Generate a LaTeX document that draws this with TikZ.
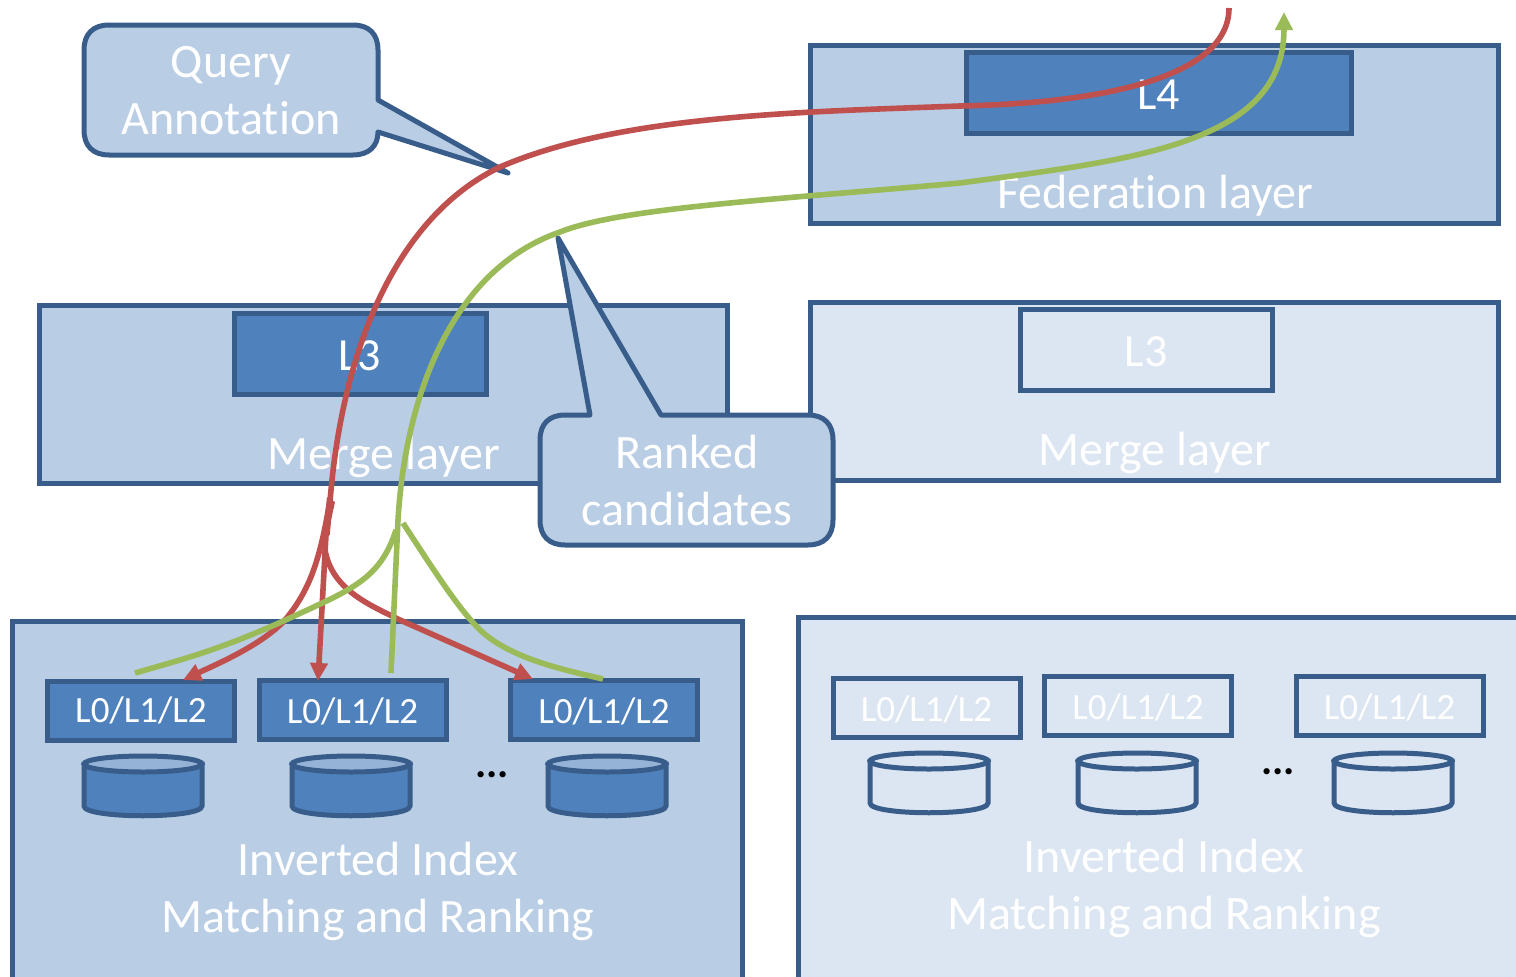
\documentclass[tikz,border=0pt]{standalone}
\usepackage{fontspec}
\setmainfont[Ligatures=NoCommon]{Carlito}
\usetikzlibrary{arrows.meta}
\definecolor{edgeblue}{HTML}{385D8A}
\definecolor{darkfill}{HTML}{4F81BD}
\definecolor{midfill}{HTML}{B9CDE5}
\definecolor{palefill}{HTML}{DCE6F2}
\definecolor{topfill}{HTML}{95B3D7}
\definecolor{redline}{HTML}{C0504D}
\definecolor{greenline}{HTML}{9BBB59}
\tikzset{
  x=1pt,y=-1pt,
  panel/.style={draw=edgeblue,line width=5pt,anchor=north west,inner sep=0pt,outer sep=0pt},
  midpanel/.style={panel,fill=midfill},
  palepanel/.style={panel,fill=palefill},
  darkbox/.style={panel,line width=5pt,fill=darkfill,text=white,font=\fontsize{46}{46}\selectfont},
  palebox/.style={panel,fill=palefill,text=white,font=\fontsize{46}{46}\selectfont},
  lbl/.style={text=white,font=\fontsize{48}{57}\selectfont,align=center,inner sep=0pt},
  smalldark/.style={darkbox,font=\fontsize{37}{37}\selectfont},
  smallpale/.style={palebox,font=\fontsize{37}{37}\selectfont},
  callout/.style={draw=edgeblue,line width=5pt,fill=midfill,line join=round},
  redc/.style={draw=redline,line width=5.6pt},
  greenc/.style={draw=greenline,line width=5.6pt},
  tip/.style={-{Triangle[length=18pt,width=17pt]}},
  dots/.style={font=\fontsize{42}{42}\selectfont\bfseries,inner sep=0pt},
}
% #1 name, #2 x centre, #3 top y, #4 body fill, #5 top fill
\newcommand{\drum}[5]{%
  \coordinate (#1) at (#2,#3);
  \path[draw=edgeblue,line width=5pt,fill=#4]
    (#2-59,#3+8) -- (#2-59,#3+50) .. controls (#2-59,#3+63) and (#2+59,#3+63) .. (#2+59,#3+50) -- (#2+59,#3+8) -- cycle;
  \path[draw=edgeblue,line width=5pt,fill=#5] (#2,#3+8) ellipse[x radius=59,y radius=8];
}
\begin{document}
\begin{tikzpicture}
\useasboundingbox (0,0) rectangle (1516,977);
\clip (0,0) rectangle (1516,977);
% panels
\node[midpanel,minimum width=688.5pt,minimum height=178pt] (fedp) at (810,45) {};
\node[midpanel,minimum width=688.5pt,minimum height=178pt] (mergel) at (39,305) {};
\node[palepanel,minimum width=688.5pt,minimum height=178pt] (merger) at (810,302) {};
\node[midpanel,minimum width=730.5pt,minimum height=400pt] (botl) at (12,621) {};
\node[palepanel,minimum width=760pt,minimum height=400pt] (botr) at (798,617) {};
% inner boxes
\node[darkbox,minimum width=385pt,minimum height=81pt] (l4) at (966,52) {\rule{0pt}{34pt}L4};
\node[darkbox,minimum width=252pt,minimum height=81pt] (l3l) at (234,313) {\rule{0pt}{34pt}L3};
\node[palebox,minimum width=252pt,minimum height=81pt] (l3r) at (1020,309) {\rule{0pt}{34pt}L3};
% layer labels
\node[lbl] (fedt) at (1155,196) {Federation layer};
\node[lbl] (mergelt) at (384,457) {Merge layer};
\node[lbl] (mergert) at (1155,453) {Merge layer};
\node[lbl] (botlt) at (378,891.5) {Inverted Index\\Matching and Ranking};
\node[lbl] (botrt) at (1164,888) {Inverted Index\\Matching and Ranking};
% left leaves
\node[smalldark,minimum width=187pt,minimum height=59pt] (a1) at (47.5,681) {\raisebox{-1pt}{L0/L1/L2}};
\node[smalldark,minimum width=187pt,minimum height=59pt] (a2) at (259,680) {\rule{0pt}{30pt}L0/L1/L2};
\node[smalldark,minimum width=187pt,minimum height=59pt] (a3) at (510.5,680) {\rule{0pt}{30pt}L0/L1/L2};
\drum{d1}{143}{756}{darkfill}{topfill}
\drum{d2}{351}{756}{darkfill}{topfill}
\drum{d3}{607}{756}{darkfill}{topfill}
\node[dots] (dl) at (492,775) {...};
% right leaves
\node[smallpale,minimum width=187pt,minimum height=59pt] (b1) at (833,678) {\rule{0pt}{30pt}L0/L1/L2};
\node[smallpale,minimum width=187pt,minimum height=59pt] (b2) at (1044.5,676) {\rule{0pt}{30pt}L0/L1/L2};
\node[smallpale,minimum width=187pt,minimum height=59pt] (b3) at (1296,676) {\rule{0pt}{30pt}L0/L1/L2};
\drum{e1}{929}{753}{palefill}{palefill}
\drum{e2}{1137}{753}{palefill}{palefill}
\drum{e3}{1393}{753}{palefill}{palefill}
\node[dots] (dr) at (1278,772) {...};
% callouts
\path[callout] (109,25) -- (353,25) .. controls (369,25) and (378,34) .. (378,50) -- (378,100) -- (508,173) -- (378,132) .. controls (378,146) and (369,155) .. (353,155) -- (109,155) .. controls (93,155) and (84,146) .. (84,130) -- (84,50) .. controls (84,34) and (93,25) .. (109,25) -- cycle;
\node[lbl] (qa) at (231,91) {Query\\Annotation};
\path[callout] (565,415) -- (590,415) -- (558,238) -- (661,415) -- (808,415) .. controls (824,415) and (833,424) .. (833,440) -- (833,520) .. controls (833,536) and (824,545) .. (808,545) -- (565,545) .. controls (549,545) and (540,536) .. (540,520) -- (540,440) .. controls (540,424) and (549,415) .. (565,415) -- cycle;
\node[lbl] (rc) at (687,480.5) {Ranked\\candidates};
% connector ends
\coordinate (rstart) at (1229,8);
\coordinate (rsplit) at (327,535);
\coordinate (gstart) at (1284,12);
% red
\draw[redc] (rstart) .. controls (1229,75) and (1110,103) .. (960,106)
  .. controls (800,112) and (620,115) .. (500,167)
  .. controls (400,215) and (345,340) .. (331,490) -- (rsplit);
\fill[redline] (327,497) -- (335,502) -- (330,525) -- (324,525) -- cycle;
\draw[redc,tip] (330,500) .. controls (320,560) and (310,590) .. (285,620) .. controls (262,645) and (215,665) .. (183,680);
\draw[redc,tip] (326,535) -- (318,681);
\draw[redc,tip] (325,550) .. controls (332,590) and (370,605) .. (400,620) -- (533,679);
% green
\draw[greenc,tip] (391,673) -- (398,520) .. controls (405,400) and (450,270) .. (560,232)
  .. controls (620,208) and (770,200) .. (960,183)
  .. controls (1130,160) and (1284,145) .. (gstart);
\draw[greenc] (396,530) .. controls (380,580) and (350,590) .. (290,618) .. controls (220,650) and (180,660) .. (135,673);
\draw[greenc] (403,523) .. controls (440,580) and (460,610) .. (480,630) .. controls (510,658) and (560,669) .. (603,679);
\end{tikzpicture}
\end{document}
